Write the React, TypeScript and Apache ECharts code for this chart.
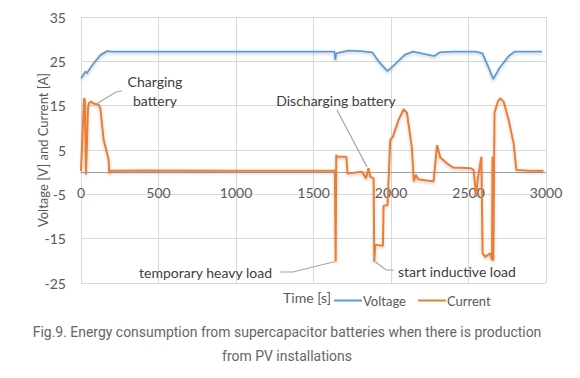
import React, { useEffect, useRef } from "react";
import * as echarts from "echarts";

// Voltage series (time [s], value [V])
const voltageTime = [0, 10, 28, 38, 70, 125, 168, 200, 1000, 1635, 1641, 1646, 1660, 1725, 1800, 1880, 1920, 1977, 2030, 2090, 2143, 2220, 2280, 2313, 2400, 2545, 2590, 2625, 2660, 2700, 2760, 2800, 2900, 2975];
const voltageValues = [21.2, 21.6, 22.7, 22.3, 24.0, 26.4, 27.3, 27.2, 27.2, 27.2, 25.3, 26.8, 26.9, 27.4, 27.3, 27.0, 25.0, 22.8, 24.5, 26.5, 27.2, 26.6, 26.2, 27.0, 27.2, 27.2, 26.8, 24.0, 21.0, 23.5, 26.2, 27.2, 27.2, 27.2];

// Current series (time [s], value [A])
const currentTime = [0, 20, 25, 32, 45, 52, 64, 81, 114, 125, 146, 163, 178, 183, 190, 400, 1000, 1638, 1643, 1647, 1652, 1712, 1720, 1770, 1813, 1839, 1855, 1866, 1888, 1892, 1898, 1948, 1952, 1978, 1995, 2012, 2049, 2081, 2103, 2135, 2147, 2160, 2175, 2275, 2297, 2318, 2361, 2404, 2447, 2512, 2533, 2550, 2559, 2583, 2591, 2608, 2641, 2652, 2655, 2660, 2668, 2673, 2690, 2705, 2727, 2759, 2791, 2809, 2900, 2984];
const currentValues = [0.3, 16.7, 16.3, -0.5, 14.5, 15.6, 15.9, 15.5, 15.2, 14.4, 7.3, 5.0, 2.8, -0.3, 0.3, 0.4, 0.3, 0.3, -20.2, 3.9, 3.5, 3.5, -0.3, -0.1, 0.1, -1.4, 0.9, -1.0, -1.4, -20.2, -16.4, -16.6, -7.6, -7.4, 7.3, 8.0, 11.8, 14.2, 13.4, 5.4, -2.1, -0.6, -1.6, -2.1, 6.1, 3.3, 2.0, 1.0, 1.0, 0.9, 0.5, -5.5, -1.8, 3.5, -18.3, -19.1, -18.3, -19.8, 3.5, -20.0, 13.5, 14.0, 16.0, 16.7, 15.9, 11.8, 6.5, 0.5, 0.3, 0.3];

// Axis ranges
const xMin = 0;
const xMax = 3000;
const xStep = 500;
const yMin = -25;
const yMax = 35;
const yStep = 10;

const seriesNames = ["Voltage", "Current"];
const xAxisTitle = "Time [s]";
const yAxisTitle = "Voltage [V] and Current [A]";
const captionLines = [
  "Fig.9. Energy consumption from supercapacitor batteries when there is production",
  "from PV installations",
];

// Annotations: text and the data point their leader line points to
const annotationTexts = ["Charging\nbattery", "Discharging battery", "temporary heavy load", "start inductive load"];
const annotationTargets: [number, number][] = [
  [103, 15.5],
  [1845, 1.2],
  [1634, -20.2],
  [1899, -20.2],
];

const FONT = "Lato, 'Liberation Sans', sans-serif";
const CAPTION_FONT = "Roboto, sans-serif";

function measure(text: string, font: string): number {
  const c = document.createElement("canvas").getContext("2d");
  if (!c) return 0;
  c.font = font;
  return c.measureText(text).width;
}

export default function App() {
  const ref = useRef<HTMLDivElement>(null);

  useEffect(() => {
    if (!ref.current) return;
    const chart = echarts.init(ref.current, undefined, { renderer: "svg" });
    const zip = (a: number[], b: number[]) => a.map((t, i) => [t, b[i]]);
    const lineShadow = { shadowBlur: 3, shadowColor: "rgba(0,0,0,0.22)", shadowOffsetY: 1.5 };

    const gridTop = 17;
    const gridBottom = 95;
    const gridH = 378 - gridTop - gridBottom;
    const zeroOffset = -((0 - yMin) / (yMax - yMin)) * gridH;

    chart.setOption({
      animation: false,
      textStyle: { fontFamily: FONT },
      grid: { left: 81, right: 34, top: gridTop, bottom: gridBottom, containLabel: false },
      xAxis: {
        type: "value",
        min: xMin,
        max: xMax,
        interval: xStep,
        offset: zeroOffset,
        axisLine: { onZero: false, lineStyle: { color: "#A0A0A0", width: 1 } },
        axisTick: { show: false },
        axisLabel: { color: "#595959", fontSize: 14, fontFamily: FONT, margin: 13, formatter: (v: number) => String(v) },
        splitLine: { show: true, lineStyle: { color: "#D9D9D9", width: 1 } },
      },
      yAxis: {
        type: "value",
        min: yMin,
        max: yMax,
        interval: yStep,
        axisLine: { show: false },
        axisTick: { show: false },
        axisLabel: { color: "#595959", fontSize: 14, fontFamily: FONT, margin: 15 },
        splitLine: { show: true, lineStyle: { color: "#D9D9D9", width: 1 } },
      },
      legend: {
        data: seriesNames,
        left: 329,
        top: 289,
        icon: "rect",
        itemWidth: 28,
        itemHeight: 2,
        itemGap: 12,
        textStyle: { color: "#595959", fontSize: 13, fontFamily: FONT, padding: [0, 0, 0, -4] },
      },
      series: [
        {
          name: seriesNames[0],
          type: "line",
          data: zip(voltageTime, voltageValues),
          showSymbol: false,
          symbol: "none",
          color: "#5B9BD5",
          lineStyle: { width: 1.8, color: "#5B9BD5", ...lineShadow },
          z: 3,
        },
        {
          name: seriesNames[1],
          type: "line",
          data: zip(currentTime, currentValues),
          showSymbol: false,
          symbol: "none",
          color: "#ED7D31",
          lineStyle: { width: 2, color: "#ED7D31", ...lineShadow },
          z: 4,
        },
      ],
    });

    const px = (p: [number, number]) => chart.convertToPixel({ gridIndex: 0 }, p) as number[];
    const tg = annotationTargets.map(px);
    const leader = { stroke: "#A5A5A5", lineWidth: 1.2, fill: null };
    const annText = { fill: "#404040", fontSize: 14, fontFamily: FONT };

    const capW = measure(captionLines[1], `15px ${CAPTION_FONT}`) || 130;
    const capScale = 130 / capW;

    chart.setOption({
      graphic: [
        // Y axis title
        {
          type: "text",
          x: 43,
          y: 150,
          rotation: Math.PI / 2,
          style: { text: yAxisTitle, fill: "#595959", fontSize: 13, fontFamily: FONT, align: "center", verticalAlign: "middle" },
        },
        // X axis title
        {
          type: "text",
          x: 307,
          y: 297,
          style: { text: xAxisTitle, fill: "#595959", fontSize: 14, fontFamily: FONT, align: "center", verticalAlign: "middle" },
        },
        // Annotations
        {
          type: "text",
          x: 155,
          y: 91,
          style: { text: annotationTexts[0], ...annText, align: "center", verticalAlign: "middle", lineHeight: 19 },
        },
        { type: "polyline", shape: { points: [[122, 91], [116, 92], tg[0]] }, style: leader, z: 10 },
        {
          type: "text",
          x: 336,
          y: 100,
          style: { text: annotationTexts[1], ...annText, align: "center", verticalAlign: "middle" },
        },
        { type: "polyline", shape: { points: [[337, 110], tg[1]] }, style: leader, z: 10 },
        {
          type: "text",
          x: 272,
          y: 272,
          style: { text: annotationTexts[2], ...annText, align: "right", verticalAlign: "middle" },
        },
        { type: "polyline", shape: { points: [[280, 272], [293, 272], tg[2]] }, style: leader, z: 10 },
        {
          type: "text",
          x: 398,
          y: 271,
          style: { text: annotationTexts[3], ...annText, align: "left", verticalAlign: "middle" },
        },
        { type: "polyline", shape: { points: [[394, 270], [386, 270], tg[3]] }, style: leader, z: 10 },
        // Caption
        {
          type: "text",
          x: 287,
          y: 332,
          scaleX: capScale,
          style: { text: captionLines[0], fill: "#666666", fontSize: 15, fontFamily: CAPTION_FONT, align: "center", verticalAlign: "middle" },
        },
        {
          type: "text",
          x: 287,
          y: 356,
          scaleX: capScale,
          style: { text: captionLines[1], fill: "#666666", fontSize: 15, fontFamily: CAPTION_FONT, align: "center", verticalAlign: "middle" },
        },
      ],
    });

    return () => chart.dispose();
  }, []);

  return <div ref={ref} style={{ position: "absolute", left: 0, top: 0, width: 580, height: 378, background: "#fff" }} />;
}
